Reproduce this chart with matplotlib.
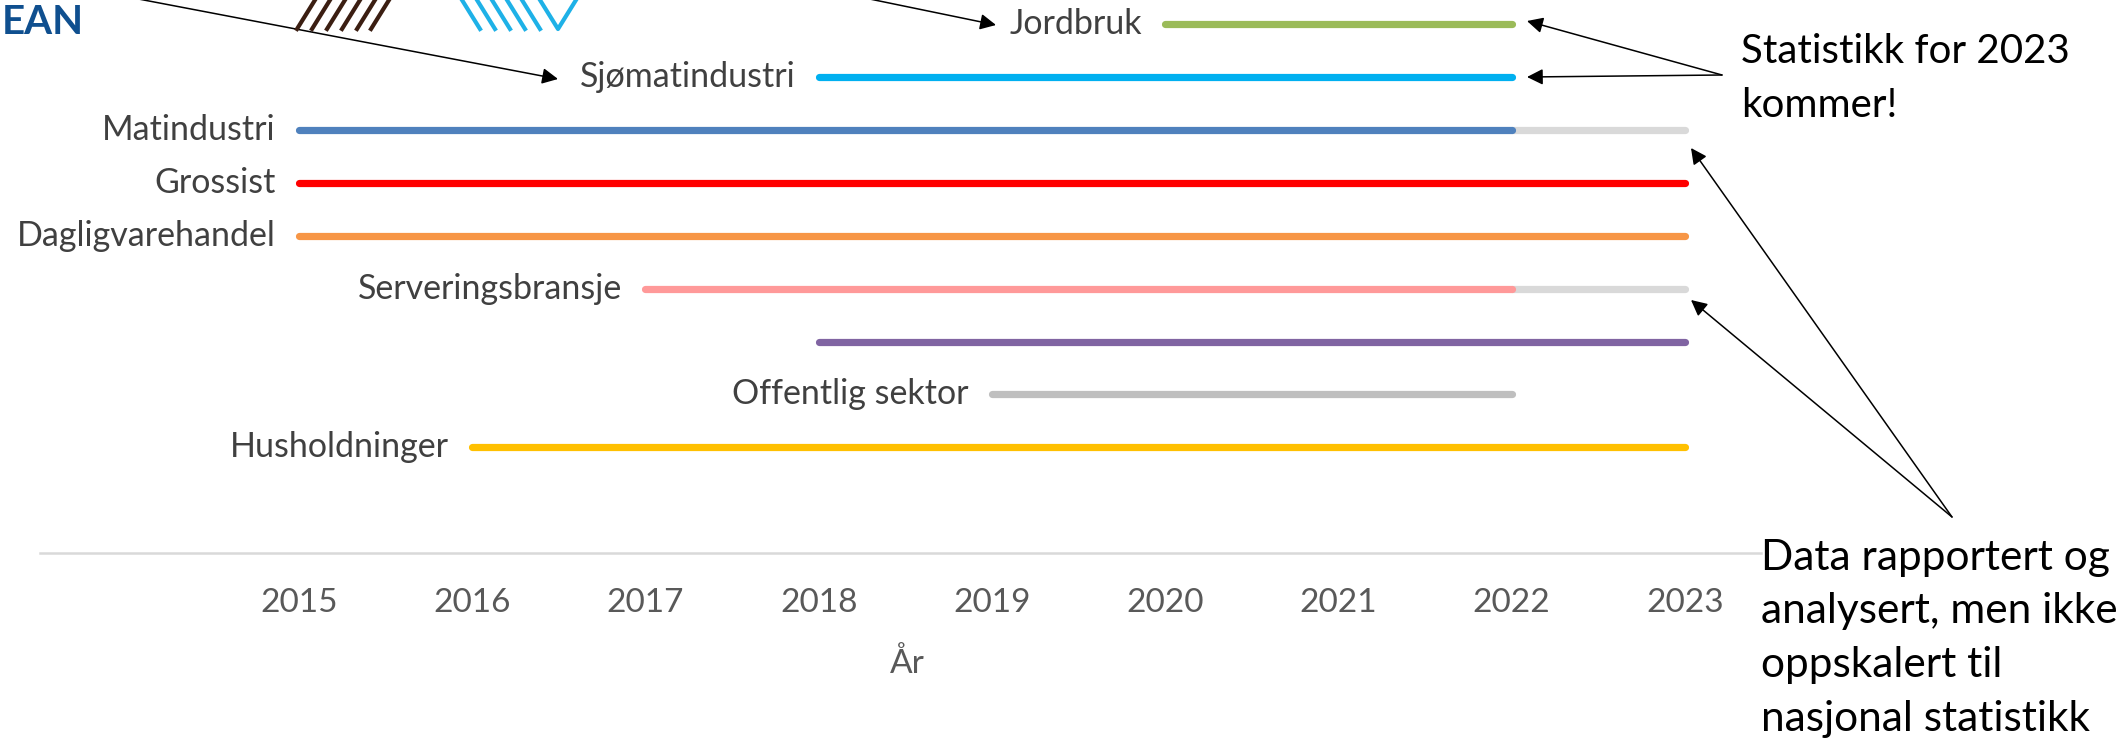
import matplotlib
matplotlib.use("Agg")
import matplotlib.pyplot as plt
from matplotlib.lines import Line2D

# ---------------- data ----------------
categories = ["Jordbruk", "Sjømatindustri", "Matindustri", "Grossist",
              "Dagligvarehandel", "Serveringsbransje", "", "Offentlig sektor",
              "Husholdninger"]
start_years = [2020, 2018, 2015, 2015, 2015, 2017, 2018, 2019, 2016]
end_years = [2022, 2022, 2022, 2023, 2023, 2022, 2023, 2022, 2023]
ext_end_years = [None, None, 2023, None, None, 2023, None, None, None]
row_positions = [10, 9, 8, 7, 6, 5, 4, 3, 2]
years = [2015, 2016, 2017, 2018, 2019, 2020, 2021, 2022, 2023]
line_colors = ["#9BBB59", "#00B0F0", "#4F81BD", "#FF0000", "#F79646",
               "#FF9999", "#8064A2", "#BFBFBF", "#FFC000"]
ext_color = "#D9D9D9"
x_label = "År"
note_top = ["Statistikk for 2023", "kommer!"]
note_bottom = ["Data rapportert og", "analysert, men ikke",
               "oppskalert til", "nasjonal statistikk"]

W, H = 2124, 740
plt.rcParams['font.family'] = ['Lato', 'DejaVu Sans']
fig = plt.figure(figsize=(W / 100, H / 100), dpi=100)

def fx(px):
    return px / W

def fy(py):
    return 1 - py / H

ax = fig.add_axes([fx(40), fy(553), fx(1761) - fx(40), fy(0) - fy(553)])
ax.set_xlim(2013.505, 2023.44)
ax.set_ylim(0, 10.46)

for cat, s, e, ext, ypos, col in zip(categories, start_years, end_years,
                                       ext_end_years, row_positions, line_colors):
    if ext is not None:
        xs = list(range(e, ext + 1))
        ax.plot(xs, [ypos] * len(xs), color=ext_color, lw=5.2,
                solid_capstyle='round', zorder=2)
    xs = list(range(s, e + 1))
    ax.plot(xs, [ypos] * len(xs), color=col, lw=5.2,
            solid_capstyle='round', zorder=3)
    if cat:
        ax.annotate(cat, xy=(s, ypos), xytext=(-23, 0), textcoords='offset pixels',
                    ha='right', va='center', fontsize=24.5, color='#404040')

for side in ['left', 'right', 'top']:
    ax.spines[side].set_visible(False)
ax.spines['bottom'].set_color('#D9D9D9')
ax.spines['bottom'].set_linewidth(1.8)
ax.set_yticks([])
ax.set_xticks(years)
ax.set_xticklabels([str(y) for y in years])
ax.tick_params(axis='x', length=0, pad=25, labelsize=24, labelcolor='#595959')
ax.set_xlabel(x_label, fontsize=24, color='#595959')
ax.xaxis.set_label_coords((907 - 40) / (1761 - 40), -(664 - 553) / 553)
ax.xaxis.label.set_va('center')

# ---------------- annotation texts ----------------
for i, t in enumerate(note_top):
    fig.text(fx(1741), fy(63 + 54 * i), t, fontsize=29, color='black',
             ha='left', va='baseline')
for i, t in enumerate(note_bottom):
    fig.text(fx(1761), fy(570 + 53.5 * i), t, fontsize=30.5, color='black',
             ha='left', va='baseline')

# ---------------- arrows ----------------
def arrow(tail, head):
    fig.add_artist(matplotlib.patches.FancyArrowPatch(
        (fx(tail[0]), fy(tail[1])), (fx(head[0]), fy(head[1])),
        transform=fig.transFigure, arrowstyle='-|>', color='black', lw=1.1,
        mutation_scale=24, shrinkA=0, shrinkB=0))

arrow((128, -3), (558, 79))
arrow((860, -3), (996, 25))
arrow((1722, 75), (1527, 21))
arrow((1722, 75), (1527, 77))
arrow((1952, 517), (1691, 148))
arrow((1952, 517), (1691, 300))

# ---------------- logo fragments ----------------
fig.text(fx(2), fy(22), "EAN", fontsize=29, fontweight='bold', color='#0F4F8F',
         ha='left', va='center')
for bx in [297, 312, 327, 342, 357, 371]:
    fig.add_artist(Line2D([fx(bx), fx(bx + 18)], [fy(29), fy(0)],
                          transform=fig.transFigure, color='#3B1E12', lw=3))
for bx in [462, 477, 492, 507, 522]:
    fig.add_artist(Line2D([fx(bx), fx(bx + 18)], [fy(0), fy(29)],
                          transform=fig.transFigure, color='#1EB1E7', lw=3))
fig.add_artist(Line2D([fx(540), fx(558), fx(576)], [fy(0), fy(29), fy(0)],
                      transform=fig.transFigure, color='#1EB1E7', lw=3))

fig.savefig("out.png", dpi=100)
